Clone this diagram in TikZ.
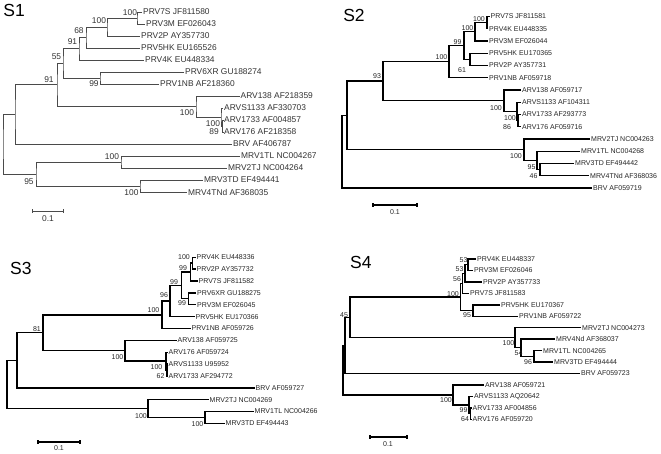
\documentclass[tikz,border=0pt]{standalone}
\usepackage{fontspec}
\newfontfamily\lsans{Liberation Sans}
\definecolor{sonel}{HTML}{4A4A4A}
\definecolor{sonet}{HTML}{333333}
\definecolor{txt}{HTML}{262626}
\begin{document}
\begin{tikzpicture}[x=1bp,y=-1bp,
  bra/.style={draw=sonel, line width=0.8bp, line join=miter},
  brb/.style={draw=black, line width=1.4bp, line join=miter},
  lfa/.style={anchor=west, inner xsep=1bp, inner ysep=0pt, text=sonet, font=\lsans\fontsize{8.4bp}{9bp}\selectfont},
  lfb/.style={anchor=west, inner xsep=1bp, inner ysep=0pt, text=txt, font=\lsans\fontsize{7bp}{8bp}\selectfont},
  bsa/.style={inner sep=0pt, text=sonet, font=\lsans\fontsize{8.4bp}{9bp}\selectfont},
  bsb/.style={inner sep=0pt, text=txt, font=\lsans\fontsize{7bp}{8bp}\selectfont},
  ttl/.style={inner sep=0pt, text=black, font=\lsans\fontsize{17.5bp}{18bp}\selectfont}]
\fill[white] (0,0) rectangle (661,454);
\useasboundingbox (0,0) rectangle (661,454);

% ================= S1 =================
\node[ttl] (t1) at (14.2,10.8) {S1};
\node[lfa] (a1) at (142,12) {PRV7S JF811580};
\node[lfa] (a2) at (145,24) {PRV3M EF026043};
\node[lfa] (a3) at (140,36) {PRV2P AY357730};
\node[lfa] (a4) at (140,48) {PRV5HK EU165526};
\node[lfa] (a5) at (144,60) {PRV4K EU448334};
\node[lfa] (a6) at (184,72) {PRV6XR GU188274};
\node[lfa] (a7) at (159,84) {PRV1NB AF218360};
\node[lfa] (a8) at (239.5,96) {ARV138 AF218359};
\node[lfa] (a9) at (223,108) {ARVS1133 AF330703};
\node[lfa] (a10) at (223,120) {ARV1733 AF004857};
\node[lfa] (a11) at (223,132) {ARV176 AF218358};
\node[lfa] (a12) at (232,144) {BRV AF406787};
\node[lfa] (a13) at (240,156) {MRV1TL NC004267};
\node[lfa] (a14) at (227,168) {MRV2TJ NC004264};
\node[lfa] (a15) at (203,180) {MRV3TD EF494441};
\node[lfa] (a16) at (187,192) {MRV4TNd AF368035};
\coordinate (ana) at (137,18);
\coordinate (anb) at (107,27);
\coordinate (anc) at (86,37.5);
\coordinate (and) at (79,48.75);
\coordinate (ane) at (100,78);
\coordinate (anf) at (63,63.4);
\coordinate (ang) at (222.5,126);
\coordinate (anh) at (221,117);
\coordinate (ani) at (196,106.5);
\coordinate (anj) at (57,84.9);
\coordinate (ank) at (15,114.5);
\coordinate (anl) at (121,162);
\coordinate (anm) at (140,186);
\coordinate (ann) at (36,174);
\coordinate (anr) at (3,144.2);
\draw[bra] (a1.west) -| (ana) |- (a2.west);
\draw[bra] (ana) -| (anb) |- (a3.west);
\draw[bra] (anb) -| (anc) |- (a4.west);
\draw[bra] (anc) -| (and) |- (a5.west);
\draw[bra] (a6.west) -| (ane) |- (a7.west);
\draw[bra] (and) -| (anf) |- (ane);
\draw[bra] (a10.west) -| (ang) |- (a11.west);
\draw[bra] (a9.west) -| (anh) |- (ang);
\draw[bra] (a8.west) -| (ani) |- (anh);
\draw[bra] (anf) -| (anj) |- (ani);
\draw[bra] (anj) -| (ank) |- (a12.west);
\draw[bra] (a13.west) -| (anl) |- (a14.west);
\draw[bra] (a15.west) -| (anm) |- (a16.west);
\draw[bra] (anl) -| (ann) |- (anm);
\draw[bra] (ank) -| (anr) |- (ann);
\node[bsa] (ab1) at (130,12.5) {100};
\node[bsa] (ab2) at (99,21) {100};
\node[bsa] (ab3) at (79,31) {68};
\node[bsa] (ab4) at (72.5,42) {91};
\node[bsa] (ab5) at (56.5,57) {55};
\node[bsa] (ab6) at (94,84) {99};
\node[bsa] (ab7) at (49,80) {91};
\node[bsa] (ab8) at (187,113) {100};
\node[bsa] (ab9) at (213,124) {100};
\node[bsa] (ab10) at (214,132) {89};
\node[bsa] (ab11) at (112,157) {100};
\node[bsa] (ab12) at (29,182) {95};
\node[bsa] (ab13) at (131.5,193) {100};
\coordinate (asl) at (32,211);
\coordinate (asr) at (63,211);
\draw[bra] (asl) -- (asr);
\draw[bra] ([yshift=1.6bp]asl) -- ([yshift=-1.6bp]asl);
\draw[bra] ([yshift=1.6bp]asr) -- ([yshift=-1.6bp]asr);
\node[bsa] (asn) at (48,218.5) {0.1};

% ================= S2 =================
\node[ttl] (t2) at (354,15.8) {S2};
\node[lfb] (b1) at (489.5,16.5) {PRV7S JF811581};
\node[lfb] (b2) at (488,28.75) {PRV4K EU448335};
\node[lfb] (b3) at (488,41) {PRV3M EF026044};
\node[lfb] (b4) at (488,53.25) {PRV5HK EU170365};
\node[lfb] (b5) at (488,65.5) {PRV2P AY357731};
\node[lfb] (b6) at (488,77.75) {PRV1NB AF059718};
\node[lfb] (b7) at (521,90) {ARV138 AF059717};
\node[lfb] (b8) at (521,102.25) {ARVS1133 AF104311};
\node[lfb] (b9) at (521,114.5) {ARV1733 AF293773};
\node[lfb] (b10) at (521,126.75) {ARV176 AF059716};
\node[lfb] (b11) at (590,139) {MRV2TJ NC004263};
\node[lfb] (b12) at (580,151.25) {MRV1TL NC004268};
\node[lfb] (b13) at (574,163.5) {MRV3TD EF494442};
\node[lfb] (b14) at (589,175.75) {MRV4TNd AF368036};
\node[lfb] (b15) at (592,188) {BRV AF059719};
\coordinate (bna) at (487,22.6);
\coordinate (bnb) at (475,31.8);
\coordinate (bnc) at (470,59.4);
\coordinate (bnd) at (464,45.6);
\coordinate (bne) at (449,61.7);
\coordinate (bnf) at (518,120.6);
\coordinate (bng) at (517,111.4);
\coordinate (bnh) at (504,100.7);
\coordinate (bni) at (383,81.2);
\coordinate (bnj) at (540,169.6);
\coordinate (bnk) at (537,160.4);
\coordinate (bnl) at (524,149.7);
\coordinate (bnm) at (347,115.5);
\coordinate (bnr) at (342,151.7);
\draw[brb] (b1.west) -| (bna) |- (b2.west);
\draw[brb] (bna) -| (bnb) |- (b3.west);
\draw[brb] (b4.west) -| (bnc) |- (b5.west);
\draw[brb] (bnb) -| (bnd) |- (bnc);
\draw[brb] (bnd) -| (bne) |- (b6.west);
\draw[brb] (b9.west) -| (bnf) |- (b10.west);
\draw[brb] (b8.west) -| (bng) |- (bnf);
\draw[brb] (b7.west) -| (bnh) |- (bng);
\draw[brb] (bne) -| (bni) |- (bnh);
\draw[brb] (b13.west) -| (bnj) |- (b14.west);
\draw[brb] (b12.west) -| (bnk) |- (bnj);
\draw[brb] (b11.west) -| (bnl) |- (bnk);
\draw[brb] (bni) -| (bnm) |- (bnl);
\draw[brb] (bnm) -| (bnr) |- (b15.west);
\node[bsb] (bb1) at (479,19) {100};
\node[bsb] (bb2) at (467.5,28) {100};
\node[bsb] (bb3) at (462,70) {61};
\node[bsb] (bb4) at (457.5,42) {99};
\node[bsb] (bb5) at (441.5,57) {100};
\node[bsb] (bb6) at (377,76) {93};
\node[bsb] (bb7) at (496,108) {100};
\node[bsb] (bb8) at (510,118) {100};
\node[bsb] (bb9) at (507,127) {86};
\node[bsb] (bb10) at (516,156) {100};
\node[bsb] (bb11) at (531.5,167) {95};
\node[bsb] (bb12) at (533.5,176) {46};
\coordinate (bsl) at (373,205);
\coordinate (bsr) at (417,205);
\draw[brb] (bsl) -- (bsr);
\draw[brb] ([yshift=1.8bp]bsl) -- ([yshift=-1.8bp]bsl);
\draw[brb] ([yshift=1.8bp]bsr) -- ([yshift=-1.8bp]bsr);
\node[bsb] (bsn) at (395,212) {0.1};

% ================= S3 =================
\node[ttl] (t3) at (20.8,268.3) {S3};
\node[lfb] (c1) at (195.5,257.3) {PRV4K EU448336};
\node[lfb] (c2) at (195.5,269.2) {PRV2P AY357732};
\node[lfb] (c3) at (197.5,281) {PRV7S JF811582};
\node[lfb] (c4) at (196,292.9) {PRV6XR GU188275};
\node[lfb] (c5) at (196,304.7) {PRV3M EF026045};
\node[lfb] (c6) at (194.5,316.6) {PRV5HK EU170366};
\node[lfb] (c7) at (190.5,328.5) {PRV1NB AF059726};
\node[lfb] (c8) at (176.5,340.3) {ARV138 AF059725};
\node[lfb] (c9) at (167.5,352.2) {ARV176 AF059724};
\node[lfb] (c10) at (167.5,364) {ARVS1133 U95952};
\node[lfb] (c11) at (167.5,375.9) {ARV1733 AF294772};
\node[lfb] (c12) at (254.5,387.8) {BRV AF059727};
\node[lfb] (c13) at (208.5,399.6) {MRV2TJ NC004269};
\node[lfb] (c14) at (253.5,411.5) {MRV1TL NC004266};
\node[lfb] (c15) at (224.5,423.3) {MRV3TD EF494443};
\coordinate (cna) at (192.5,263.2);
\coordinate (cnb) at (190.7,272.1);
\coordinate (cnc) at (188.3,298.8);
\coordinate (cnd) at (181.7,285.5);
\coordinate (cne) at (170,301);
\coordinate (cnf) at (162,314.8);
\coordinate (cng) at (167,370);
\coordinate (cnh) at (166,361.1);
\coordinate (cni) at (125,350.7);
\coordinate (cnj) at (43,332.7);
\coordinate (cnk) at (17,360.3);
\coordinate (cnl) at (205,417.4);
\coordinate (cnm) at (148,408.5);
\coordinate (cnr) at (7,384.4);
\draw[brb] (c1.west) -| (cna) |- (c2.west);
\draw[brb] (cna) -| (cnb) |- (c3.west);
\draw[brb] (c4.west) -| (cnc) |- (c5.west);
\draw[brb] (cnb) -| (cnd) |- (cnc);
\draw[brb] (cnd) -| (cne) |- (c6.west);
\draw[brb] (cne) -| (cnf) |- (c7.west);
\draw[brb] (c10.west) -| (cng) |- (c11.west);
\draw[brb] (c9.west) -| (cnh) |- (cng);
\draw[brb] (c8.west) -| (cni) |- (cnh);
\draw[brb] (cnf) -| (cnj) |- (cni);
\draw[brb] (cnj) -| (cnk) |- (c12.west);
\draw[brb] (c14.west) -| (cnl) |- (c15.west);
\draw[brb] (c13.west) -| (cnm) |- (cnl);
\draw[brb] (cnk) -| (cnr) |- (cnm);
\node[bsb] (cb1) at (184,257.5) {100};
\node[bsb] (cb2) at (183,268) {99};
\node[bsb] (cb3) at (174,282) {99};
\node[bsb] (cb4) at (182,303.5) {99};
\node[bsb] (cb5) at (164,295.5) {96};
\node[bsb] (cb6) at (153.5,310.5) {100};
\node[bsb] (cb7) at (37,329) {81};
\node[bsb] (cb8) at (117.5,357) {100};
\node[bsb] (cb9) at (156.5,367) {100};
\node[bsb] (cb10) at (160.5,376) {62};
\node[bsb] (cb11) at (141,416) {100};
\node[bsb] (cb12) at (197.5,424) {100};
\coordinate (csl) at (38,442);
\coordinate (csr) at (80,442);
\draw[brb] (csl) -- (csr);
\draw[brb] ([yshift=1.8bp]csl) -- ([yshift=-1.8bp]csl);
\draw[brb] ([yshift=1.8bp]csr) -- ([yshift=-1.8bp]csr);
\node[bsb] (csn) at (59,448.5) {0.1};

% ================= S4 =================
\node[ttl] (t4) at (360.8,262.5) {S4};
\node[lfb] (d1) at (476,259) {PRV4K EU448337};
\node[lfb] (d2) at (473,270.45) {PRV3M EF026046};
\node[lfb] (d3) at (482,281.9) {PRV2P AY357733};
\node[lfb] (d4) at (469,293.35) {PRV7S JF811583};
\node[lfb] (d5) at (500,304.8) {PRV5HK EU170367};
\node[lfb] (d6) at (518,316.25) {PRV1NB AF059722};
\node[lfb] (d7) at (581,327.7) {MRV2TJ NC004273};
\node[lfb] (d8) at (555,339.15) {MRV4Nd AF368037};
\node[lfb] (d9) at (542,350.6) {MRV1TL NC004265};
\node[lfb] (d10) at (553,362.05) {MRV3TD EF494444};
\node[lfb] (d11) at (580,373.5) {BRV AF059723};
\node[lfb] (d12) at (484,384.95) {ARV138 AF059721};
\node[lfb] (d13) at (473,396.4) {ARVS1133 AQ20642};
\node[lfb] (d14) at (471.5,407.85) {ARV1733 AF004856};
\node[lfb] (d15) at (471.5,419.3) {ARV176 AF059720};
\coordinate (dna) at (468,264.7);
\coordinate (dnb) at (465,273.3);
\coordinate (dnc) at (462.7,283.3);
\coordinate (dnd) at (473,310.5);
\coordinate (dne) at (460.7,296.9);
\coordinate (dnf) at (534,356.3);
\coordinate (dng) at (521,347.7);
\coordinate (dnh) at (515,337.7);
\coordinate (dni) at (350,317.3);
\coordinate (dnj) at (345,345.4);
\coordinate (dnk) at (470.5,413.6);
\coordinate (dnl) at (469,405);
\coordinate (dnm) at (453,395);
\coordinate (dnr) at (343,370.2);
\draw[brb] (d1.west) -| (dna) |- (d2.west);
\draw[brb] (dna) -| (dnb) |- (d3.west);
\draw[brb] (dnb) -| (dnc) |- (d4.west);
\draw[brb] (d5.west) -| (dnd) |- (d6.west);
\draw[brb] (dnc) -| (dne) |- (dnd);
\draw[brb] (d9.west) -| (dnf) |- (d10.west);
\draw[brb] (d8.west) -| (dng) |- (dnf);
\draw[brb] (d7.west) -| (dnh) |- (dng);
\draw[brb] (dne) -| (dni) |- (dnh);
\draw[brb] (dni) -| (dnj) |- (d11.west);
\draw[brb] (d14.west) -| (dnk) |- (d15.west);
\draw[brb] (d13.west) -| (dnl) |- (dnk);
\draw[brb] (d12.west) -| (dnm) |- (dnl);
\draw[brb] (dnj) -| (dnr) |- (dnm);
\node[bsb] (db1) at (463.5,260) {53};
\node[bsb] (db2) at (459.5,268.7) {53};
\node[bsb] (db3) at (457,278.7) {56};
\node[bsb] (db4) at (453,293.7) {100};
\node[bsb] (db5) at (467,315.3) {95};
\node[bsb] (db6) at (344,315) {45};
\node[bsb] (db7) at (508.5,343) {100};
\node[bsb] (db8) at (518.5,353) {54};
\node[bsb] (db9) at (528,362) {96};
\node[bsb] (db10) at (446,400) {100};
\node[bsb] (db11) at (463.5,410) {99};
\node[bsb] (db12) at (465,419) {64};
\coordinate (dsl) at (370,437);
\coordinate (dsr) at (407,437);
\draw[brb] (dsl) -- (dsr);
\draw[brb] ([yshift=1.8bp]dsl) -- ([yshift=-1.8bp]dsl);
\draw[brb] ([yshift=1.8bp]dsr) -- ([yshift=-1.8bp]dsr);
\node[bsb] (dsn) at (388,444) {0.1};
\end{tikzpicture}
\end{document}
